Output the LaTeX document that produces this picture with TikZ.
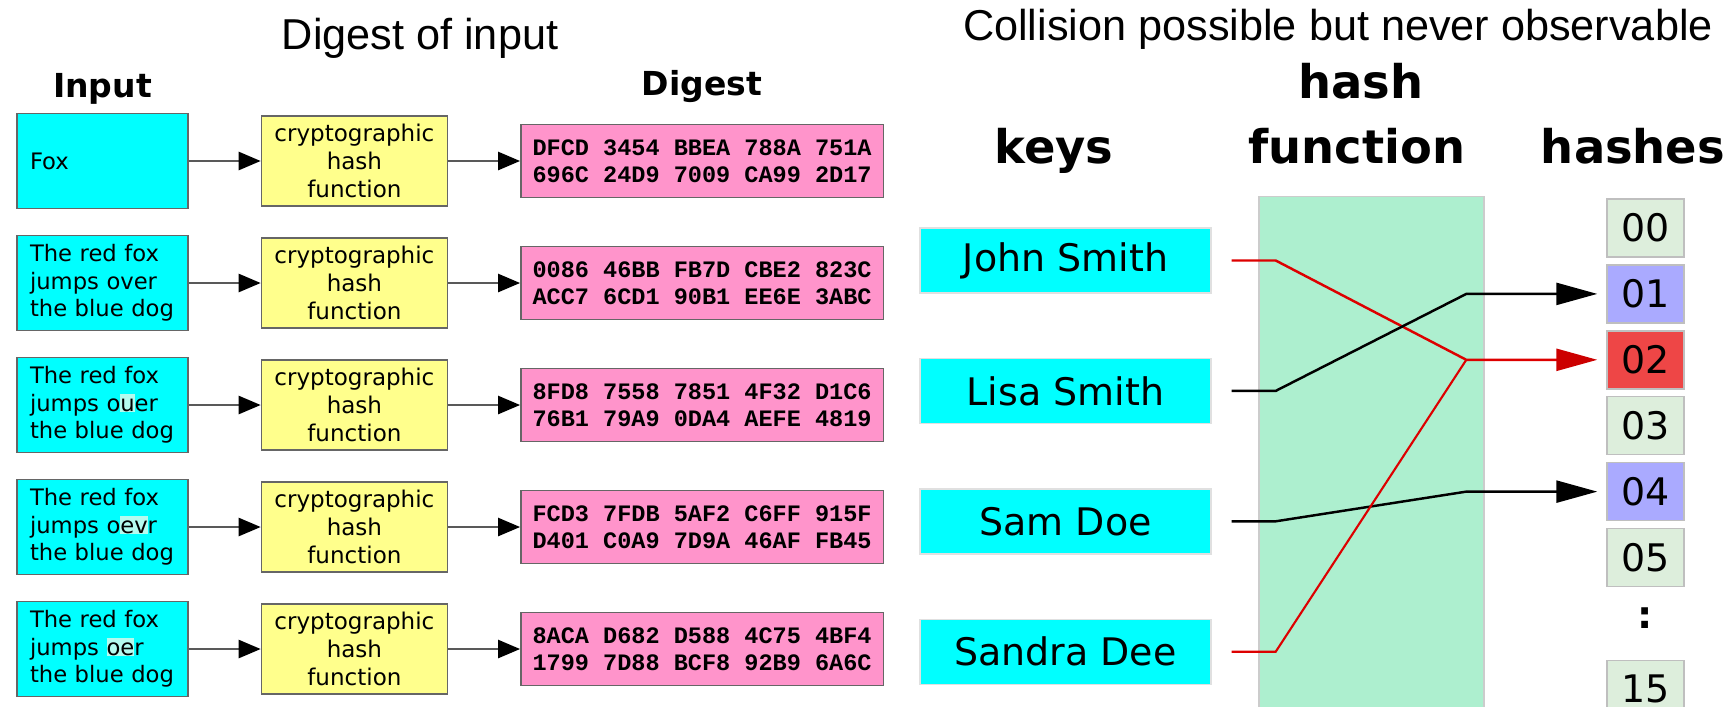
\documentclass[tikz,border=0pt]{standalone}
\usepackage{fontspec}
\setmainfont{DejaVu Sans}
\newfontfamily\titlefont{Liberation Sans}
\newfontfamily\hexfont{Liberation Mono}
\usepackage{xcolor}
\usepackage{tikz}
\usetikzlibrary{arrows.meta, positioning}

\definecolor{incyan}{HTML}{00FFFF}
\definecolor{fnyellow}{HTML}{FFFF8C}
\definecolor{dgpink}{HTML}{FF94CB}
\definecolor{hlmark}{HTML}{B5FBEF}
\definecolor{fngreen}{HTML}{ADEFCF}
\definecolor{hempty}{HTML}{DDEEDC}
\definecolor{hused}{HTML}{AAAAFF}
\definecolor{hclash}{HTML}{EE4646}
\definecolor{linkred}{HTML}{DD0000}
\definecolor{tipred}{HTML}{CC0000}

\newcommand{\hlt}[1]{{\setlength{\fboxsep}{0pt}\colorbox{hlmark}{#1\vphantom{h}}}}

\tikzstyle{inbox}   = [rectangle, draw=black!60, fill=incyan, text width=1.45cm,
                        align=left, inner xsep=0.13cm, inner ysep=0.3mm,
                        minimum height=0.95cm, font=\fontsize{6.45pt}{7.8pt}\selectfont]
\tikzstyle{fnbox}   = [rectangle, draw=black!60, fill=fnyellow, text width=1.7cm,
                        align=center, inner xsep=0.08cm, inner ysep=0.3mm,
                        minimum height=0.9cm, font=\fontsize{6.55pt}{7.9pt}\selectfont]
\tikzstyle{dgbox}   = [rectangle, draw=black!60, fill=dgpink, minimum width=3.6cm,
                        minimum height=0.73cm, align=center,
                        font=\hexfont\bfseries\fontsize{6.7pt}{7.7pt}\selectfont]
\tikzstyle{arrow}   = [draw=black!65, line width=0.7pt,
                        -{Triangle[length=2.2mm,width=1.8mm,color=black]}]
\tikzstyle{keybox}  = [rectangle, draw=black!12, fill=incyan, minimum width=2.91cm,
                        minimum height=0.65cm, font=\fontsize{10.8pt}{13pt}\selectfont]
\tikzstyle{hbox}    = [rectangle, draw=black!25, fill=hempty, minimum width=0.77cm,
                        minimum height=0.58cm, font=\fontsize{10.8pt}{13pt}\selectfont]
\tikzstyle{fnarea}  = [rectangle, draw=black!20, fill=fngreen, minimum width=2.25cm,
                        minimum height=5.4cm]
\tikzstyle{head}    = [inner sep=0, font=\fontsize{13.2pt}{16pt}\selectfont\bfseries]
\tikzstyle{colhead} = [inner sep=0, font=\fontsize{9.4pt}{11pt}\selectfont\bfseries]
\tikzstyle{title}   = [inner sep=0, font=\titlefont\fontsize{12.3pt}{14pt}\selectfont]
\tikzstyle{link}    = [line width=0.7pt, -{Triangle[length=4.1mm,width=2.2mm]}]

\begin{document}
\begin{tikzpicture}
\useasboundingbox (0,0) rectangle (17.34,-7.07);

% digest of input
\node (ttl1) [title, anchor=base] at (4.20,-0.49) {Digest of input};

\node (in1) [inbox] at (1.025,-1.61) {Fox};
\node (in2) [inbox, below=0.256cm of in1] {The red fox\\jumps over\\the blue dog};
\node (in3) [inbox, below=0.256cm of in2] {The red fox\\jumps o\hlt{u}er\\the blue dog};
\node (in4) [inbox, below=0.256cm of in3] {The red fox\\jumps o\hlt{ev}r\\the blue dog};
\node (in5) [inbox, below=0.256cm of in4] {The red fox\\jumps \hlt{oe}r\\the blue dog};

\node (hf1) [fnbox, right=0.72cm of in1] {cryptographic\\hash\\function};
\node (hf2) [fnbox, right=0.72cm of in2] {cryptographic\\hash\\function};
\node (hf3) [fnbox, right=0.72cm of in3] {cryptographic\\hash\\function};
\node (hf4) [fnbox, right=0.72cm of in4] {cryptographic\\hash\\function};
\node (hf5) [fnbox, right=0.72cm of in5] {cryptographic\\hash\\function};

\node (dg1) [dgbox, right=0.72cm of hf1] {DFCD 3454 BBEA 788A 751A\\696C 24D9 7009 CA99 2D17};
\node (dg2) [dgbox, right=0.72cm of hf2] {0086 46BB FB7D CBE2 823C\\ACC7 6CD1 90B1 EE6E 3ABC};
\node (dg3) [dgbox, right=0.72cm of hf3] {8FD8 7558 7851 4F32 D1C6\\76B1 79A9 0DA4 AEFE 4819};
\node (dg4) [dgbox, right=0.72cm of hf4] {FCD3 7FDB 5AF2 C6FF 915F\\D401 C0A9 7D9A 46AF FB45};
\node (dg5) [dgbox, right=0.72cm of hf5] {8ACA D682 D588 4C75 4BF4\\1799 7D88 BCF8 92B9 6A6C};

\node (inhdr) [colhead, above=0.08cm of in1] {Input};
\node (dghdr) [colhead, above=0.2cm of dg1] {Digest};

\draw [arrow] (in1) -- (hf1);
\draw [arrow] (in2) -- (hf2);
\draw [arrow] (in3) -- (hf3);
\draw [arrow] (in4) -- (hf4);
\draw [arrow] (in5) -- (hf5);
\draw [arrow] (hf1) -- (dg1);
\draw [arrow] (hf2) -- (dg2);
\draw [arrow] (hf3) -- (dg3);
\draw [arrow] (hf4) -- (dg4);
\draw [arrow] (hf5) -- (dg5);

% hash table
\node (ttl2) [title, anchor=base] at (13.38,-0.41) {Collision possible but never observable};

\node (keyhdr)  [head, anchor=base] at (10.54,-1.63) {keys};
\node (hashhdr) [head, anchor=base] at (13.61,-0.99) {hash};
\node (fnhdr)   [head, anchor=base] at (13.57,-1.63) {function};
\node (hhdr)    [head, anchor=base] at (16.33,-1.63) {hashes};

\node (hfun) [fnarea, anchor=north] at (13.715,-1.96) {};

\node (john)   [keybox] at (10.655,-2.605) {John Smith};
\node (lisa)   [keybox, below=0.64cm of john] {Lisa Smith};
\node (sam)    [keybox, below=0.64cm of lisa] {Sam Doe};
\node (sandra) [keybox, below=0.64cm of sam]  {Sandra Dee};

\node (h00)   [hbox] at (16.455,-2.28) {00};
\node (h01)   [hbox, fill=hused,  below=0.065cm of h00] {01};
\node (h02)   [hbox, fill=hclash, below=0.065cm of h01] {02};
\node (h03)   [hbox, below=0.065cm of h02] {03};
\node (h04)   [hbox, fill=hused,  below=0.065cm of h03] {04};
\node (h05)   [hbox, below=0.065cm of h04] {05};
\node (hdots) [hbox, draw=none, fill=none, below=0.065cm of h05, yshift=0.5mm] {\textbf{:}};
\node (h15)   [hbox, below=0.115cm of hdots] {15};

\draw [link, linkred, -{Triangle[length=4.1mm,width=2.2mm,color=tipred]}]
      ([xshift=2mm]john.east) -- ++(0.44,0)
      -- ([xshift=-1.4cm]h02.west) -- ([xshift=-0.9mm]h02.west);
\draw [link] ([xshift=2mm]lisa.east) -- ++(0.44,0)
      -- ([xshift=-1.4cm]h01.west) -- ([xshift=-0.9mm]h01.west);
\draw [link] ([xshift=2mm]sam.east) -- ++(0.44,0)
      -- ([xshift=-1.4cm]h04.west) -- ([xshift=-0.9mm]h04.west);
\draw [linkred, line width=0.6pt] ([xshift=2mm]sandra.east) -- ++(0.44,0)
      -- ([xshift=-1.4cm]h02.west);

\end{tikzpicture}
\end{document}
